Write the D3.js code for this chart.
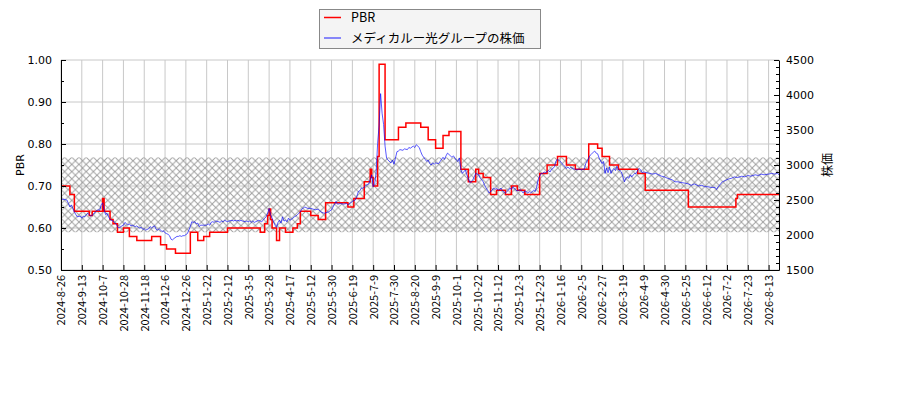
<!DOCTYPE html>
<html><head><meta charset="utf-8">
<script src="https://cdn.jsdelivr.net/npm/d3@7"></script>
<style>
body{margin:0;background:#fff;}
svg{display:block;}
.tk text{font-family:"DejaVu Sans",sans-serif;font-size:11px;fill:#000;}
.xl text{font-family:"Noto Sans CJK JP","DejaVu Sans",sans-serif;font-size:11px;fill:#000;}
</style></head>
<body><svg id="c" width="900" height="400"></svg>
<script>
// ---- data ----
const tickLabels = ["2024-8-26","2024-9-13","2024-10-7","2024-10-28","2024-11-18","2024-12-6","2024-12-26","2025-1-22","2025-2-12","2025-3-5","2025-3-28","2025-4-17","2025-5-12","2025-5-30","2025-6-19","2025-7-9","2025-7-30","2025-8-20","2025-9-9","2025-10-1","2025-10-22","2025-11-12","2025-12-3","2025-12-23","2026-1-16","2026-2-5","2026-2-27","2026-3-19","2026-4-9","2026-4-30","2026-5-25","2026-6-12","2026-7-2","2026-7-23","2026-8-13"];
const tickStep = 14;
const lastDay = 483;
const pbrRunStart = [0,6,9,19,21,28,29,33,35,38,42,46,51,61,67,71,77,87,92,96,100,112,134,137,139,140,141,142,145,147,151,156,159,161,168,173,178,193,197,204,208,209,210,213,214,218,227,232,242,247,252,257,261,269,274,279,281,284,289,293,299,303,307,312,322,327,334,340,346,355,361,364,369,375,388,393,422,454,455];
const pbrRunValue = [0.70,0.68,0.64,0.63,0.64,0.67,0.64,0.62,0.61,0.59,0.60,0.58,0.57,0.58,0.56,0.55,0.54,0.59,0.57,0.58,0.59,0.60,0.59,0.61,0.63,0.645,0.62,0.60,0.57,0.60,0.59,0.60,0.61,0.64,0.63,0.62,0.66,0.65,0.67,0.71,0.74,0.72,0.70,0.77,0.99,0.81,0.84,0.85,0.84,0.81,0.79,0.82,0.83,0.74,0.71,0.74,0.73,0.72,0.68,0.69,0.68,0.70,0.69,0.68,0.73,0.75,0.77,0.75,0.74,0.80,0.79,0.77,0.75,0.74,0.73,0.69,0.65,0.67,0.68];
const priceDay = [0,2,4,5,6,7,8,9,10,11,13,14,15,16,17,18,19,20,22,23,24,25,26,27,28,29,30,31,32,33,35,36,37,38,39,41,42,43,44,45,46,47,48,50,51,52,53,54,55,56,57,59,60,61,62,63,64,65,66,68,69,70,71,72,73,74,75,76,78,79,80,81,82,83,85,87,88,89,90,91,92,93,94,96,98,99,100,101,102,103,104,106,107,108,109,110,111,112,113,115,116,117,118,119,120,121,122,124,125,126,127,128,129,130,131,133,134,135,136,137,138,139,140,141,142,143,144,145,146,147,148,149,150,151,152,153,154,156,157,158,159,160,161,162,164,166,168,171,173,175,177,180,182,183,185,186,188,190,192,193,194,195,196,198,199,200,201,202,203,204,205,207,208,209,210,211,212,213,214,215,216,217,218,219,220,222,223,224,226,227,228,230,231,233,234,235,237,238,239,241,242,243,245,246,247,248,249,250,251,252,254,255,256,257,258,259,260,262,263,264,265,266,267,268,269,270,272,273,274,275,276,277,278,279,281,282,283,284,285,286,287,288,290,291,292,293,294,295,296,297,299,300,301,302,303,304,305,306,307,309,310,311,312,313,314,315,316,318,319,320,321,322,323,324,325,326,328,329,330,331,332,333,334,336,337,338,339,340,341,342,343,344,346,347,348,349,350,351,352,353,355,356,357,358,359,360,361,362,364,365,366,367,368,369,370,371,372,373,374,375,376,377,378,379,380,381,382,383,384,385,386,387,388,389,390,391,392,394,396,398,400,402,404,406,408,411,413,415,417,420,422,424,426,429,431,433,435,437,440,441,442,443,444,445,447,449,451,453,455,458,460,462,464,467,469,471,473,476,478,480,482,483];
const priceValue = [2510,2510,2500,2450,2400,2430,2380,2330,2290,2260,2270,2240,2270,2260,2290,2310,2290,2270,2300,2330,2350,2360,2350,2430,2460,2360,2290,2310,2260,2220,2200,2180,2160,2120,2100,2130,2140,2180,2160,2140,2160,2130,2140,2120,2130,2110,2100,2110,2080,2090,2070,2090,2120,2100,2120,2130,2080,2070,2090,2050,2060,2030,2020,2010,1990,1940,1930,1950,1980,1980,1990,1980,1990,1990,2020,2120,2190,2180,2190,2160,2170,2120,2140,2140,2140,2160,2140,2180,2190,2180,2200,2190,2180,2200,2190,2210,2200,2190,2200,2210,2200,2210,2200,2210,2200,2210,2200,2190,2200,2190,2200,2180,2200,2180,2190,2210,2200,2190,2210,2240,2260,2310,2380,2290,2240,2190,2140,2110,2180,2210,2170,2260,2200,2210,2190,2240,2210,2240,2260,2270,2290,2310,2330,2370,2400,2380,2380,2360,2370,2330,2310,2330,2360,2400,2480,2440,2450,2440,2450,2430,2450,2460,2480,2500,2550,2620,2630,2670,2670,2680,2710,2730,2790,2860,2690,2730,2900,3310,3570,4020,3740,3580,3270,3100,3070,3030,3070,3010,3190,3200,3220,3210,3230,3220,3250,3240,3270,3250,3290,3250,3190,3140,3080,3050,3070,3020,3000,3030,3010,3030,3020,3050,3080,3110,3080,3130,3170,3130,3110,3130,3100,3070,3050,3100,2930,2880,2930,2860,2810,2750,2760,2790,2830,2880,2860,2810,2790,2760,2710,2670,2640,2600,2640,2670,2650,2670,2640,2650,2670,2630,2600,2620,2640,2670,2650,2690,2670,2640,2630,2650,2620,2600,2630,2620,2600,2620,2600,2640,2620,2690,2790,2840,2880,2880,2900,2890,2920,2900,2940,2950,2980,3060,3080,3050,3020,3000,2980,2950,2970,2950,2970,2950,2940,2930,2940,2940,2930,2940,2940,3020,3100,3140,3160,3180,3200,3170,3160,3100,3020,3050,2880,2960,2890,2970,2880,2930,2950,2920,2980,2930,2920,2900,2830,2760,2810,2830,2810,2860,2830,2860,2880,2880,2930,2950,2930,2890,2900,2890,2880,2870,2880,2860,2840,2830,2810,2790,2760,2760,2750,2740,2730,2710,2730,2700,2710,2690,2690,2680,2680,2650,2690,2710,2740,2760,2780,2800,2810,2830,2820,2840,2830,2850,2840,2860,2850,2870,2860,2870,2880,2870,2880,2860];
const bandPbr = [0.590, 0.768];
const pbrTicks = [0.5,0.6,0.7,0.8,0.9,1.0];
const pbrMinor = [0.55,0.65,0.75,0.85,0.95];
const priceTicks = [1500,2000,2500,3000,3500,4000,4500];
const legendNames = ["PBR","メディカルー光グループの株価"];

// ---- chart ----
const L=61,R=779,T=60,B=270;
const svg=d3.select("#c");
const x=d3.scaleLinear().domain([0,lastDay]).range([L,R]);
const yL=d3.scaleLinear().domain([0.5,1.0]).range([B,T]);
const yR=d3.scaleLinear().domain([1500,4500]).range([B,T]);
const xTickVals=tickLabels.map((d,i)=>i*tickStep);
const priceMinor=d3.range(1500,4501,100).filter(v=>v%500!==0);

// hatch pattern
const defs=svg.append("defs");
const p=7.2;
const pat=defs.append("pattern").attr("id","hatch").attr("patternUnits","userSpaceOnUse")
  .attr("width",p).attr("height",p).attr("x",L).attr("y",T);
pat.append("path").attr("d",`M0,0L${p},${p}M${p},0L0,${p}`)
  .attr("stroke","#a0a0a0").attr("stroke-width",1).attr("fill","none");

// grid
const grid=svg.append("g");
grid.selectAll("line.v").data(xTickVals).join("line").attr("class","v")
  .attr("x1",d=>x(d)).attr("x2",d=>x(d)).attr("y1",T).attr("y2",B)
  .attr("stroke","#c8c8c8").attr("stroke-width",1);
grid.selectAll("line.h").data(pbrTicks).join("line").attr("class","h")
  .attr("x1",L).attr("x2",R).attr("y1",d=>yL(d)).attr("y2",d=>yL(d))
  .attr("stroke","#c8c8c8").attr("stroke-width",1);

// band
svg.append("rect").attr("x",L).attr("width",R-L)
  .attr("y",yL(bandPbr[1])).attr("height",yL(bandPbr[0])-yL(bandPbr[1]))
  .attr("fill","url(#hatch)");

// PBR line (run-length steps)
const pbrPts=pbrRunStart.map((s,i)=>[s,pbrRunValue[i]]);
pbrPts.push([lastDay,pbrRunValue[pbrRunValue.length-1]]);
svg.append("path").datum(pbrPts)
  .attr("d",d3.line().x(d=>x(d[0])).y(d=>yL(d[1])).curve(d3.curveStepAfter))
  .attr("fill","none").attr("stroke","#ff0000").attr("stroke-width",1.5);

// price line
const pricePts=priceDay.map((d,i)=>[d,priceValue[i]]);
svg.append("path").datum(pricePts)
  .attr("d",d3.line().x(d=>x(d[0])).y(d=>yR(d[1])))
  .attr("fill","none").attr("stroke","#0000ff").attr("stroke-opacity",0.72).attr("stroke-width",0.9);

// axes
const gx=svg.append("g").attr("class","tk xl").attr("transform",`translate(0,${B})`)
  .call(d3.axisBottom(x).tickValues(xTickVals).tickFormat((d,i)=>tickLabels[i]).tickSizeInner(-5).tickSizeOuter(0));
gx.selectAll("text").attr("transform","rotate(-90)").attr("x",-5).attr("y",0).attr("dy","0.35em").style("text-anchor","end");

const gl=svg.append("g").attr("class","tk").attr("transform",`translate(${L},0)`)
  .call(d3.axisLeft(yL).tickValues(pbrTicks).tickFormat(d3.format(".2f")).tickSizeInner(-5).tickSizeOuter(0).tickPadding(9));
svg.append("g").attr("transform",`translate(${L},0)`)
  .call(d3.axisLeft(yL).tickValues(pbrMinor).tickFormat("").tickSizeInner(-3).tickSizeOuter(0))
  .select(".domain").remove();

const gr=svg.append("g").attr("class","tk").attr("transform",`translate(${R},0)`)
  .call(d3.axisRight(yR).tickValues(priceTicks).tickFormat(d3.format("d")).tickSizeInner(-5).tickSizeOuter(0).tickPadding(7));
svg.append("g").attr("transform",`translate(${R},0)`)
  .call(d3.axisRight(yR).tickValues(priceMinor).tickFormat("").tickSizeInner(-3).tickSizeOuter(0))
  .select(".domain").remove();
svg.selectAll(".tick line").attr("stroke","#000");
svg.selectAll(".domain").attr("stroke","#000");

// axis titles
svg.append("text").attr("transform",`translate(24,${(T+B)/2}) rotate(-90)`)
  .attr("text-anchor","middle").attr("font-family","DejaVu Sans").attr("font-size",11).text("PBR");
svg.append("text").attr("transform",`translate(832,${(T+B)/2}) rotate(-90)`)
  .attr("text-anchor","middle").attr("font-family","Noto Sans CJK JP").attr("font-size",12).text("株価");

// legend
const lg=svg.append("g");
lg.append("rect").attr("x",319.5).attr("y",9.5).attr("width",221).attr("height",39)
  .attr("fill","#f4f4f4").attr("stroke","#888").attr("stroke-width",1);
const legColors=[["#ff0000",1,1.5],["#0000ff",0.6,1.5]];
legendNames.forEach((n,i)=>{
  const yy=17.5+i*20.5;
  lg.append("line").attr("x1",324).attr("x2",341).attr("y1",yy).attr("y2",yy)
    .attr("stroke",legColors[i][0]).attr("stroke-opacity",legColors[i][1]).attr("stroke-width",legColors[i][2]);
  lg.append("text").attr("x",351).attr("y",yy).attr("dy","0.36em")
    .attr("font-family","Noto Sans CJK JP").attr("font-size",12.5).text(n);
});
</script></body></html>
